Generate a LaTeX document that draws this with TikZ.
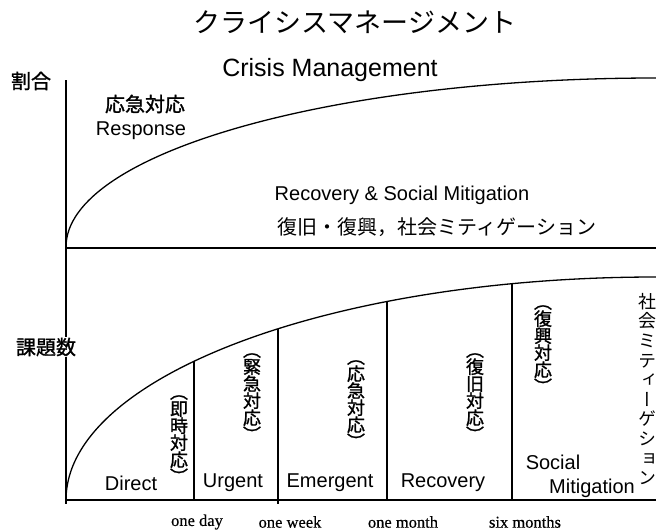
\documentclass[tikz,border=0pt]{standalone}
\usepackage{fontspec}
\usepackage{graphicx}
\setmainfont{Liberation Sans}
\newfontfamily\jp{Noto Sans CJK JP}
\newfontfamily\jpb[FakeBold=1.3]{Noto Sans CJK JP}
\newfontfamily\jpv[RawFeature=+vert,FakeBold=1.2]{Noto Sans CJK JP}
\newfontfamily\jpvr[RawFeature=+vert]{Noto Sans CJK JP}
\newfontfamily\serifen[FakeBold=0.5]{Liberation Serif}
\begin{document}
\setlength{\lineskiplimit}{-20pt}
\begin{tikzpicture}[x=1pt,y=-1pt,
  axisline/.style={line width=1.3pt},
  curveline/.style={line width=1.3pt},
  divider/.style={line width=1.1pt},
  en/.style={font=\fontsize{20}{24}\selectfont, inner sep=1pt},
  jplabel/.style={font=\jpb\fontsize{20}{24}\selectfont, inner sep=1pt},
  jptext/.style={font=\jp\fontsize{20}{24}\selectfont, inner sep=1pt},
  vlabel/.style={font=\jpv\fontsize{18}{17}\selectfont, align=center, inner sep=0pt, anchor=north},
  vlabelb/.style={font=\jpvr\fontsize{18}{19.6}\selectfont, align=center, inner sep=0pt, anchor=north},
  ticklabel/.style={font=\serifen\fontsize{16.5}{18}\selectfont, inner sep=1pt}
]
\useasboundingbox (0,0) rectangle (656,530);
\fill[white] (0,0) rectangle (656,530);

% titles
\node[font=\jp\fontsize{27}{30}\selectfont] (title) at (355,22) {クライシスマネージメント};
\node[font=\fontsize{25}{30}\selectfont] (crisis) at (330,70) {Crisis Management};

% axis labels
\node[jplabel] (ratio) at (31,81) {割合};
\node[jplabel] (tasks) at (46,347) {課題数};

% coordinates
\coordinate (ytop) at (66,80);
\coordinate (ybot) at (66,504);
\coordinate (mid0) at (66,248);
\coordinate (mid1) at (656,248);
\coordinate (base0) at (66,500);
\coordinate (base1) at (656,500);
\coordinate (up0) at (66,247);
\coordinate (d1t) at (194,361.3);
\coordinate (d1b) at (194,500);
\coordinate (d2t) at (278,328.8);
\coordinate (d2b) at (278,504);
\coordinate (d3t) at (387,301.5);
\coordinate (d3b) at (387,500);
\coordinate (d4t) at (512,283.7);
\coordinate (d4b) at (512,500);

% axes
\draw[axisline] (ytop) -- (tasks.north -| ytop);
\draw[axisline] (tasks.south -| ytop) -- (ybot);
\draw[axisline] (mid0) -- (mid1);
\draw[axisline] (base0) -- (base1);

% curves (quarter ellipses)
\draw[curveline] (up0) arc[start angle=180, end angle=270, x radius=590, y radius=169];
\draw[curveline] (base0) arc[start angle=180, end angle=270, x radius=590, y radius=223];

% dividers
\draw[divider] (d1t) -- (d1b);
\draw[divider] (d2t) -- (d2b);
\draw[divider] (d3t) -- (d3b);
\draw[divider] (d4t) -- (d4b);

% upper area text
\node[jplabel] (respjp) at (145,104) {応急対応};
\node[en] (resp) at (141,131) {Response};
\node[en] (rec) at (402,195) {Recovery \& Social Mitigation};
\node[jptext] (recjp) at (437,227) {復旧・復興，社会ミティゲーション};

% segment labels
\node[en] (direct) at (131,483) {Direct};
\node[en] (urgent) at (233,483) {Urgent};
\node[en] (emergent) at (330,483) {Emergent};
\node[en] (recovery) at (443,483) {Recovery};
\node[en] (social) at (553,462) {Social};
\node[en] (mitig) at (592,488) {Mitigation};

\node[vlabel] (v1) at (179,395) {︵\\即\\時\\対\\応\\︶};
\node[vlabel] (v2) at (252,353) {︵\\緊\\急\\対\\応\\︶};
\node[vlabel] (v3) at (356,360) {︵\\応\\急\\対\\応\\︶};
\node[vlabel] (v4) at (475,353) {︵\\復\\旧\\対\\応\\︶};
\node[vlabel] (v5) at (543,305) {︵\\復\\興\\対\\応\\︶};
\node[vlabelb] (v6) at (647,293) {社\\会\\ミ\\テ\\ィ\\ー\\ゲ\\シ\\ョ\\ン};

% time labels
\node[ticklabel] (t1) at (197,522) {one day};
\node[ticklabel] (t2) at (290,522) {one week};
\node[ticklabel] (t3) at (403,522) {one month};
\node[ticklabel] (t4) at (525,522) {six months};
\end{tikzpicture}
\end{document}
